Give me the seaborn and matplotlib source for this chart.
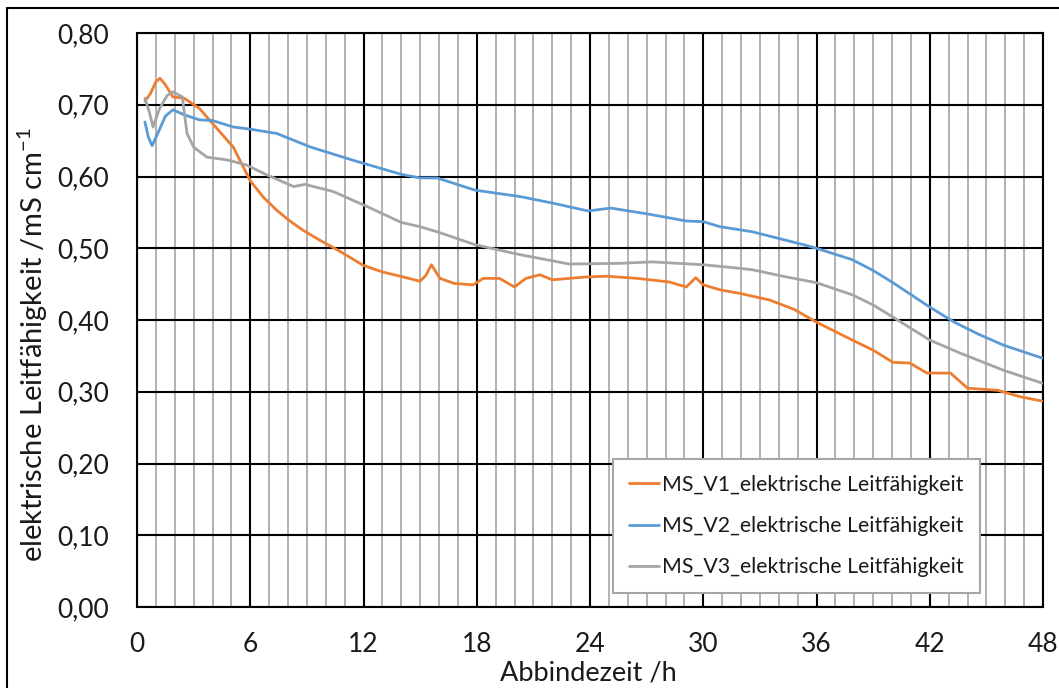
import numpy as np
import pandas as pd
import matplotlib
matplotlib.use("Agg")
import matplotlib.pyplot as plt
import seaborn as sns

# Measured conductivity curves (time in h, conductivity in mS/cm)
v1_time = [0.42, 0.7, 1.0, 1.22, 1.5, 1.9, 2.5, 3.3, 4.0, 5.1, 6.0, 6.7, 7.4, 8.1, 8.8,
           9.7, 10.6, 11.3, 12.0, 13.0, 14.1, 15.0, 15.3, 15.6, 16.05, 16.8, 17.8, 18.35,
           19.2, 20.0, 20.6, 21.35, 22.0, 23.8, 24.9, 26.5, 28.2, 29.1, 29.6, 30.0, 30.9,
           31.95, 33.5, 34.8, 36.0, 37.9, 39.0, 40.05, 40.95, 41.85, 43.1, 44.0, 45.6,
           46.8, 47.95]
v1_value = [0.705, 0.715, 0.732, 0.737, 0.728, 0.711, 0.709, 0.695, 0.674, 0.641, 0.594,
            0.571, 0.553, 0.538, 0.525, 0.511, 0.498, 0.487, 0.476, 0.467, 0.460, 0.454,
            0.462, 0.477, 0.458, 0.451, 0.449, 0.458, 0.458, 0.446, 0.458, 0.463, 0.456,
            0.460, 0.461, 0.458, 0.453, 0.446, 0.459, 0.449, 0.442, 0.437, 0.428, 0.415,
            0.397, 0.372, 0.358, 0.341, 0.340, 0.326, 0.326, 0.305, 0.302, 0.293, 0.287]

v2_time = [0.42, 0.6, 0.8, 1.1, 1.5, 1.9, 2.5, 3.3, 4.0, 5.1, 6.0, 7.4, 9.2, 11.4, 14.0,
           15.0, 15.9, 17.9, 20.3, 22.0, 23.9, 25.1, 27.0, 29.1, 30.0, 30.9, 32.6, 35.3,
           36.0, 37.9, 39.0, 40.05, 42.0, 43.3, 44.6, 45.9, 47.95]
v2_value = [0.676, 0.655, 0.643, 0.660, 0.684, 0.693, 0.686, 0.679, 0.678, 0.669, 0.666,
            0.660, 0.641, 0.623, 0.603, 0.598, 0.598, 0.581, 0.572, 0.563, 0.552, 0.556,
            0.548, 0.538, 0.537, 0.530, 0.523, 0.505, 0.500, 0.484, 0.469, 0.452, 0.418,
            0.397, 0.380, 0.365, 0.347]

v3_time = [0.42, 0.65, 0.85, 1.2, 1.6, 1.9, 2.4, 2.65, 3.0, 3.7, 4.8, 5.8, 6.9, 8.3, 8.9,
           10.4, 12.2, 14.0, 15.0, 15.9, 17.9, 20.3, 22.9, 25.6, 27.3, 30.0, 31.95, 32.6,
           34.4, 36.0, 37.9, 39.0, 40.05, 42.0, 43.6, 45.9, 47.95]
v3_value = [0.709, 0.690, 0.669, 0.695, 0.713, 0.718, 0.711, 0.660, 0.641, 0.627, 0.623,
            0.616, 0.602, 0.586, 0.589, 0.579, 0.558, 0.536, 0.530, 0.523, 0.505, 0.491,
            0.478, 0.479, 0.481, 0.477, 0.472, 0.470, 0.460, 0.452, 0.435, 0.421, 0.404,
            0.372, 0.354, 0.330, 0.312]

series_names = ["MS_V1_elektrische Leitfähigkeit",
                "MS_V2_elektrische Leitfähigkeit",
                "MS_V3_elektrische Leitfähigkeit"]
series_colors = ["#ED7D31", "#5B9BD5", "#A5A5A5"]

x_ticks = list(range(0, 49, 6))
y_ticks = [0.0, 0.1, 0.2, 0.3, 0.4, 0.5, 0.6, 0.7, 0.8]
y_ticklabels = ["0,00", "0,10", "0,20", "0,30", "0,40", "0,50", "0,60", "0,70", "0,80"]

frames = []
for name, t, v in zip(series_names, [v1_time, v2_time, v3_time], [v1_value, v2_value, v3_value]):
    frames.append(pd.DataFrame({"Zeit": t, "Wert": v, "Serie": name}))
df = pd.concat(frames, ignore_index=True)

sns.set_theme(style="white")
plt.rcParams["font.family"] = ["Lato", "DejaVu Sans"]
plt.rcParams["mathtext.fontset"] = "custom"
plt.rcParams["mathtext.rm"] = "Lato"

fig = plt.figure(figsize=(10.59, 6.88), dpi=100)
ax = fig.add_axes([137 / 1059, 81 / 688, 906 / 1059, 574 / 688])

sns.lineplot(data=df, x="Zeit", y="Wert", hue="Serie", hue_order=series_names,
             palette=series_colors, linewidth=2.0, ax=ax, sort=True, estimator=None,
             zorder=3)

ax.set_xlim(0, 48)
ax.set_ylim(0, 0.8)
ax.set_xticks(x_ticks)
ax.set_xticks(range(0, 49), minor=True)
ax.set_yticks(y_ticks)
ax.set_yticklabels(y_ticklabels)

ax.grid(which="minor", axis="x", color="#A6A6A6", linewidth=1.2, zorder=0)
ax.grid(which="major", axis="x", color="black", linewidth=1.5, zorder=1)
ax.grid(which="major", axis="y", color="black", linewidth=1.5, zorder=1)
ax.set_axisbelow(True)

for s in ax.spines.values():
    s.set_visible(True)
    s.set_color("black")
    s.set_linewidth(1.5)

ax.tick_params(axis="both", which="both", length=0, labelsize=19, colors="#1a1a1a")
ax.tick_params(axis="y", pad=20)
ax.tick_params(axis="x", pad=18)

ax.set_xlabel("")
ax.set_ylabel("")
fig.text(588 / 1059, 1 - 673 / 688, "Abbindezeit /h", ha="center", va="center",
         fontsize=19.5, color="#1a1a1a")
fig.text(33 / 1059, 1 - 345 / 688, "elektrische Leitfähigkeit /mS cm$^{\\mathrm{-1}}$",
         rotation=90, ha="center", va="center", fontsize=21, color="#1a1a1a")

leg = ax.legend(loc="upper left", bbox_to_anchor=(0.5255, 0.258), frameon=True,
                fancybox=False, framealpha=1, edgecolor="#A6A6A6", fontsize=15.3,
                labelspacing=1.0, handlelength=1.4, handletextpad=0.15,
                borderpad=0.75, borderaxespad=0)
leg.get_frame().set_linewidth(1.5)
for line in leg.get_lines():
    line.set_linewidth(2.0)
for txt in leg.get_texts():
    txt.set_color("#1a1a1a")

# Outer frame of the chart area
fig.add_artist(plt.Line2D([7 / 1059, 7 / 1059], [0, 1 - 8 / 688], color="black",
                          linewidth=1.5, transform=fig.transFigure))
fig.add_artist(plt.Line2D([7 / 1059, 1], [1 - 8 / 688, 1 - 8 / 688], color="black",
                          linewidth=1.5, transform=fig.transFigure))

fig.savefig("out.png", dpi=100)
